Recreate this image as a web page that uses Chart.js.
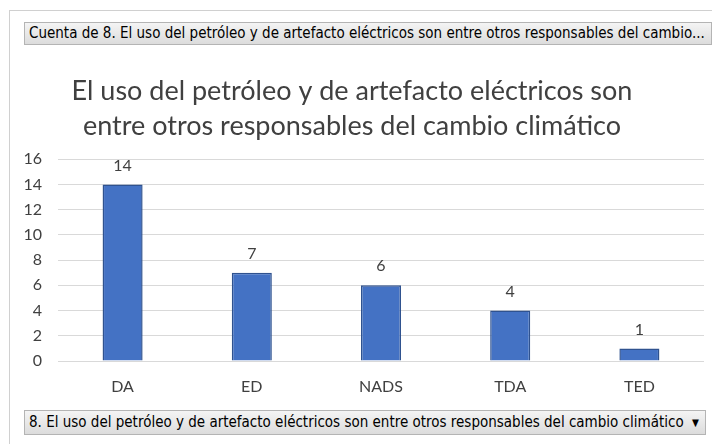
<!DOCTYPE html>
<html>
<head>
<meta charset="utf-8">
<script src="https://cdn.jsdelivr.net/npm/chart.js@4"></script>
<style>
  html, body { margin: 0; padding: 0; background: #fff; }
  body { width: 712px; height: 444px; position: relative; overflow: hidden; }
  .frame { position: absolute; left: 9px; top: 10px; width: 720px; height: 460px;
           border-left: 1px solid #d0d0d0; border-top: 1px solid #d0d0d0; }
  .btn { position: absolute; box-sizing: border-box; border: 1px solid #b4b4b4;
         background: linear-gradient(#f4f4f4, #dcdcdc); color: #000;
         font-family: "Liberation Sans Narrow", "DejaVu Sans Condensed", sans-serif;
         font-size: 15px; white-space: nowrap; overflow: hidden; padding-left: 4px; }
  #top { left: 24px; top: 22px; width: 688px; height: 23px; line-height: 21px; }
  #bottom { left: 24px; top: 410px; width: 682px; height: 25px; line-height: 23px; }
  #bottom .arr { position: absolute; right: 6px; top: 0; font-size: 10px; }
  #wrap { position: absolute; left: 0; top: 48px; width: 712px; height: 360px; }
</style>
</head>
<body>
<div class="frame"></div>
<div class="btn" id="top">Cuenta de 8. El uso del petróleo y de artefacto eléctricos son entre otros responsables del cambio...</div>
<div id="wrap"><canvas id="barChart"></canvas></div>
<div class="btn" id="bottom">8. El uso del petróleo y de artefacto eléctricos son entre otros responsables del cambio climático<span class="arr">▼</span></div>
<script>
// datos del gráfico
const categorias = ['DA', 'ED', 'NADS', 'TDA', 'TED'];
const cuentas = [14, 7, 6, 4, 1];
const titulo = ['El uso del petróleo y de artefacto eléctricos son', 'entre otros responsables del cambio climático'];

const fuente = '"Lato", "Open Sans", sans-serif';

// etiquetas de datos encima de cada barra
const etiquetas = {
  id: 'etiquetas',
  afterDatasetsDraw(chart) {
    const ctx = chart.ctx;
    ctx.save();
    ctx.fillStyle = '#404040';
    ctx.font = '16px ' + fuente;
    ctx.textAlign = 'center';
    ctx.textBaseline = 'middle';
    chart.getDatasetMeta(0).data.forEach((bar, i) => {
      ctx.fillText(cuentas[i], bar.x, bar.y - 19);
    });
    ctx.restore();
  }
};

const ctxt = document.getElementById('barChart').getContext('2d');
const myBarChart = new Chart(ctxt, {
  type: 'bar',
  data: {
    labels: categorias,
    datasets: [{
      data: cuentas,
      backgroundColor: '#4472C4',
      borderColor: '#2F528F',
      borderWidth: 1.5,
      barPercentage: 0.31,
      categoryPercentage: 1
    }]
  },
  options: {
    responsive: true,
    maintainAspectRatio: false,
    animation: false,
    layout: { padding: { left: 0, right: 8, top: 0, bottom: 0 } },
    plugins: {
      legend: { display: false },
      tooltip: { enabled: false },
      title: {
        display: true,
        text: titulo,
        color: '#404040',
        font: { family: fuente, size: 27, weight: 'normal', lineHeight: 1.3 },
        padding: { top: 26, bottom: 15 }
      }
    },
    scales: {
      x: {
        grid: { display: false, drawTicks: false },
        border: { display: false },
        ticks: { color: '#404040', font: { family: fuente, size: 16 }, padding: 16 },
        afterFit(scale) { scale.height = 47; }
      },
      y: {
        min: 0,
        max: 16,
        ticks: { stepSize: 2, color: '#404040', font: { family: fuente, size: 16 }, padding: 16 },
        grid: { color: '#d9d9d9', lineWidth: 1, drawTicks: false },
        border: { display: false },
        afterFit(scale) { scale.width = 58; }
      }
    }
  },
  plugins: [etiquetas]
});
</script>
</body>
</html>
